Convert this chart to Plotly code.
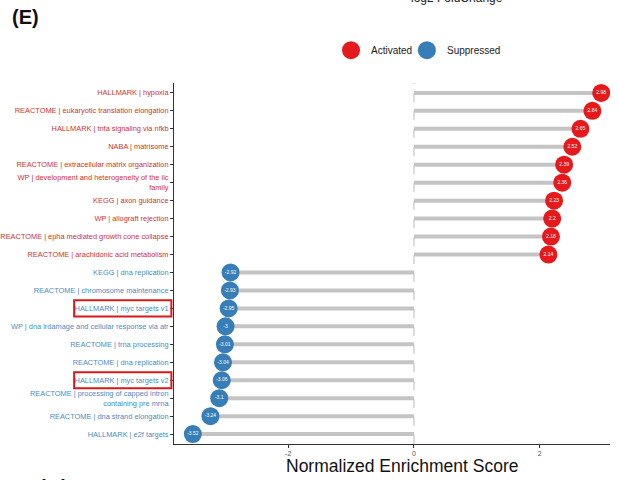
import plotly.graph_objects as go

pathways = [
    "HALLMARK | hypoxia",
    "REACTOME | eukaryotic translation elongation",
    "HALLMARK | tnfa signaling via nfkb",
    "NABA | matrisome",
    "REACTOME | extracellular matrix organization",
    "WP | development and heterogeneity of the ilc<br>family",
    "KEGG | axon guidance",
    "WP | allograft rejection",
    "REACTOME | epha mediated growth cone collapse",
    "REACTOME | arachidonic acid metabolism",
    "KEGG | dna replication",
    "REACTOME | chromosome maintenance",
    "HALLMARK | myc targets v1",
    "WP | dna irdamage and cellular response via atr",
    "REACTOME | trna processing",
    "REACTOME | dna replication",
    "HALLMARK | myc targets v2",
    "REACTOME | processing of capped intron<br>containing pre mrna",
    "REACTOME | dna strand elongation",
    "HALLMARK | e2f targets",
]
nes = [2.98, 2.84, 2.65, 2.52, 2.39, 2.36, 2.23, 2.2, 2.18, 2.14,
       -2.92, -2.93, -2.95, -3, -3.01, -3.04, -3.06, -3.1, -3.24, -3.52]
highlighted = ["HALLMARK | myc targets v1", "HALLMARK | myc targets v2"]
x_ticks = [-2, 0, 2]

RED = "#e41a1c"
BLUE = "#377eb8"
RED_TXT = "#d0312d"
BLUE_TXT = "#4b8cc2"

idx = list(range(len(pathways)))
colors = [RED if v > 0 else BLUE for v in nes]

seg_x, seg_y = [], []
for i, v in zip(idx, nes):
    seg_x += [0, v, None]
    seg_y += [i, i, None]

fig = go.Figure()
fig.add_trace(go.Scatter(x=seg_x, y=seg_y, mode="lines",
                         line=dict(color="#c4c4c4", width=4),
                         showlegend=False, hoverinfo="skip"))
fig.add_trace(go.Scatter(x=nes, y=idx, mode="markers+text",
                         marker=dict(size=18, color=colors),
                         text=[f"{v:g}" for v in nes],
                         textposition="middle center",
                         textfont=dict(size=5, color="white", family="Arial"),
                         showlegend=False))

ticktext = [f"<span style='color:{RED_TXT if v > 0 else BLUE_TXT}'>{p}</span>"
            for p, v in zip(pathways, nes)]

fig.update_layout(
    width=619, height=480,
    margin=dict(l=174, r=9, t=83, b=36, autoexpand=False),
    plot_bgcolor="white", paper_bgcolor="white",
    font=dict(family="Arial", color="#333"),
    xaxis=dict(range=[-3.82, 3.12], tickvals=x_ticks, ticktext=[str(t) for t in x_ticks],
               tickfont=dict(size=7, color="#555"), showgrid=False, zeroline=False,
               showline=True, linecolor="#333", linewidth=1, automargin=False,
               ticks="outside", ticklen=3, tickcolor="#333"),
    yaxis=dict(range=[19.55, -0.55], tickvals=idx, ticktext=ticktext,
               tickfont=dict(size=7.4), showgrid=False, zeroline=False,
               showline=True, linecolor="#333", linewidth=1, automargin=False,
               ticks="outside", ticklen=3, tickcolor="#333"),
)

shapes = [dict(type="line", xref="x", yref="paper", x0=0, x1=0, y0=0, y1=1,
               line=dict(color="#bbbbbb", width=1, dash="dash"), layer="below")]
for name in highlighted:
    i = pathways.index(name)
    shapes.append(dict(type="rect", xref="paper", yref="y",
                       x0=-0.229, x1=-0.006, y0=i - 0.45, y1=i + 0.45,
                       line=dict(color="#d7191c", width=2)))
for xc, col in [(0.406, RED), (0.580, BLUE)]:
    shapes.append(dict(type="circle", xref="paper", yref="paper",
                       xsizemode="pixel", ysizemode="pixel",
                       xanchor=xc, yanchor=1.091, x0=-9, x1=9, y0=-9, y1=9,
                       fillcolor=col, line=dict(width=0)))
fig.update_layout(shapes=shapes)

ann = [
    dict(text="Activated", x=0.447, y=1.091, xanchor="left", yanchor="middle",
         font=dict(size=10, color="#222")),
    dict(text="Suppressed", x=0.622, y=1.091, xanchor="left", yanchor="middle",
         font=dict(size=10, color="#222")),
    dict(text="<b>(E)</b>", x=-0.376, y=1.183, xanchor="left", yanchor="middle",
         font=dict(size=20, color="#111")),
    dict(text="log2 FoldChange", x=0.649, y=1.235, xanchor="center", yanchor="middle",
         font=dict(size=12, color="#222")),
    dict(text="<b>(G)</b>", x=-0.314, y=-0.082, xanchor="left", yanchor="top",
         font=dict(size=20, color="#111")),
    dict(text="Normalized Enrichment Score", x=0.524, y=-0.062, xanchor="center",
         yanchor="middle", font=dict(size=17.5, color="#111")),
]
for a in ann:
    a.update(xref="paper", yref="paper", showarrow=False)
fig.update_layout(annotations=ann)

fig.write_html("out.html")
